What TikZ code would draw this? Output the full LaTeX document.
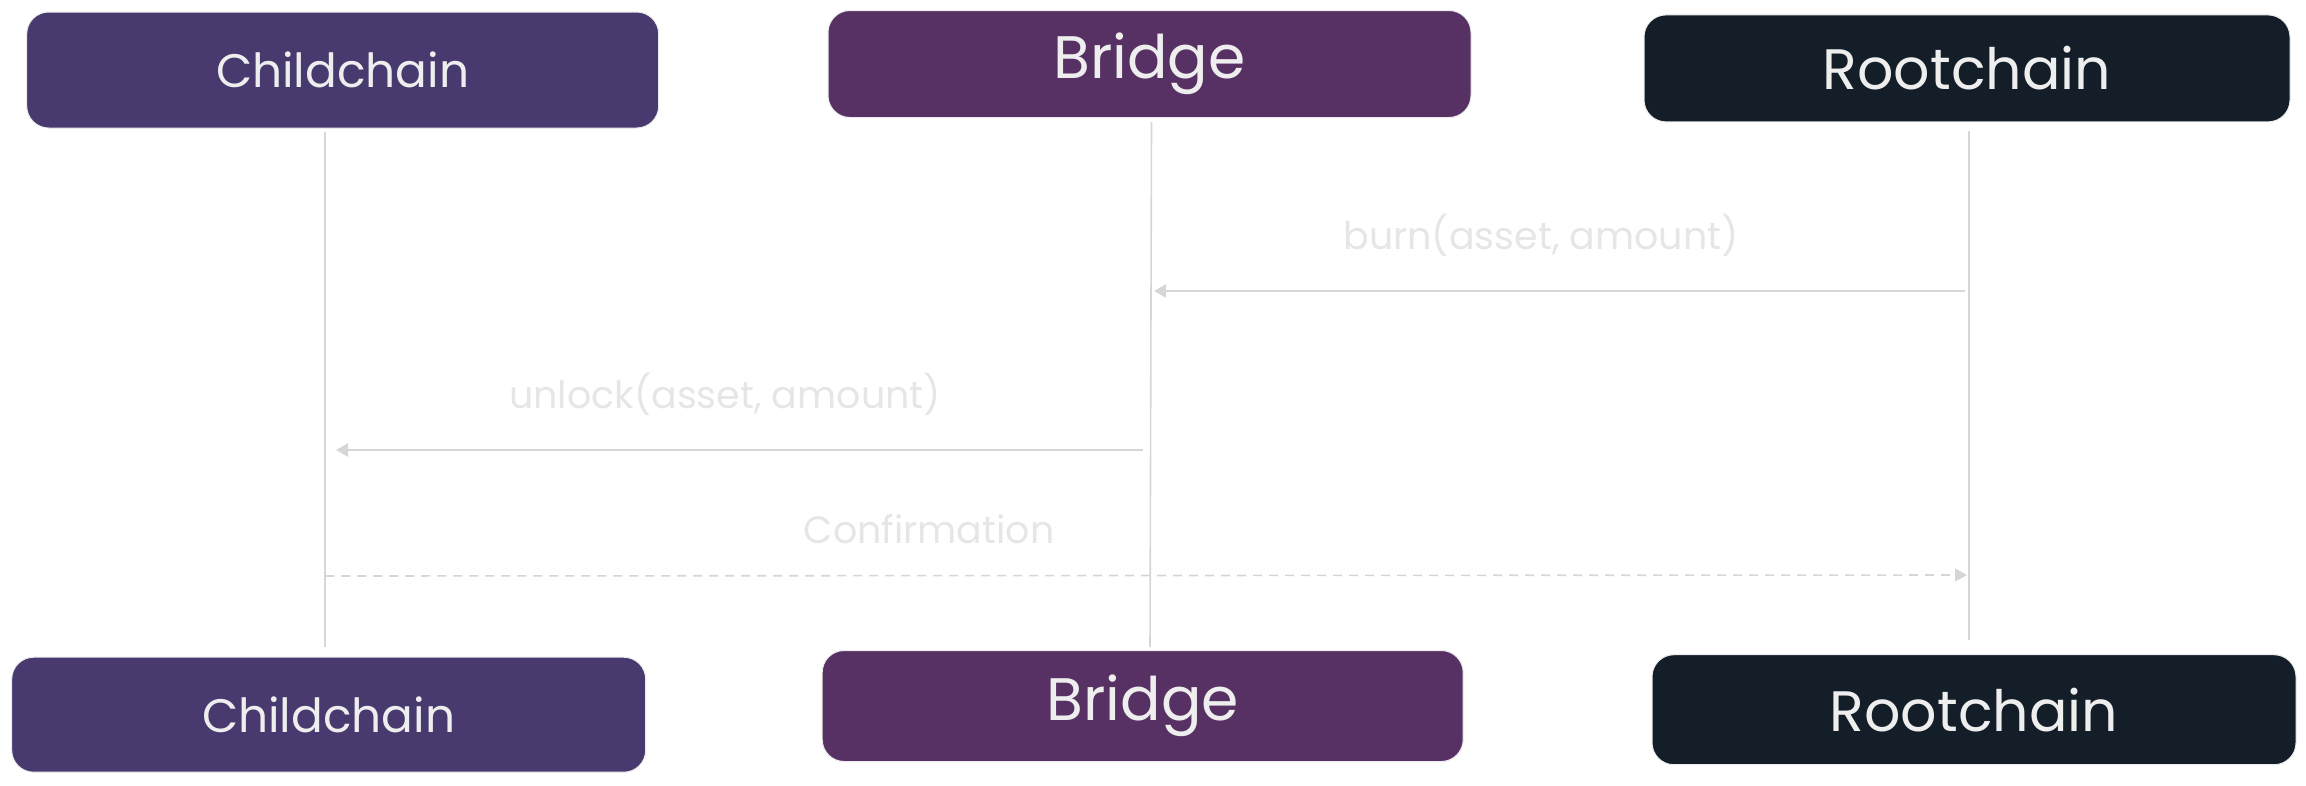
\documentclass[tikz,border=0pt]{standalone}
\usepackage{fontspec}
\setmainfont{Poppins}
\usetikzlibrary{arrows.meta}
\definecolor{childc}{HTML}{483A6F}
\definecolor{bridgec}{HTML}{583164}
\definecolor{rootc}{HTML}{131E29}
\definecolor{boxtext}{HTML}{EEEEEE}
\definecolor{labeltext}{HTML}{E6E6E6}
\definecolor{linec}{HTML}{D6D6D6}
\tikzset{
  actor/.style={rounded corners=22pt, inner sep=0pt, outer sep=0pt, text=boxtext,
    font=\fontsize{47}{52}\selectfont, draw=black!8, line width=1pt},
  bigtext/.style={font=\fontsize{60}{66}\selectfont},
  midtext/.style={font=\fontsize{57}{62}\selectfont},
  lifeline/.style={draw=linec, line width=1.6pt},
  msg/.style={draw=linec, line width=2.4pt, -{Triangle[length=12pt,width=13pt]}},
  reply/.style={draw=linec, line width=1.6pt, dash pattern=on 9pt off 7pt, -{Triangle[length=12pt,width=13pt]}},
  msglabel/.style={text=labeltext, inner sep=0pt, font=\fontsize{38}{44}\selectfont}
}
\begin{document}
\begin{tikzpicture}[x=1pt,y=-1pt]
\useasboundingbox (0,0) rectangle (2306,785);
% top actors
\node[actor, fill=childc, minimum width=632pt, minimum height=116pt] (ct) at (342.7,70) {Childchain};
\node[actor, bigtext, fill=bridgec, minimum width=643pt, minimum height=107pt] (bt) at (1149.5,64) {Bridge};
\node[actor, midtext, fill=rootc, minimum width=646pt, minimum height=107pt] (rt) at (1967,68.4) {Rootchain};
% bottom actors
\node[actor, fill=childc, minimum width=634pt, minimum height=115pt] (cb) at (328.7,714.7) {Childchain};
\node[actor, bigtext, fill=bridgec, minimum width=641pt, minimum height=111pt] (bb) at (1142.7,706) {Bridge};
\node[actor, midtext, fill=rootc, minimum width=644pt, minimum height=110pt] (rb) at (1974,709.7) {Rootchain};
% lifeline ends
\coordinate (c1) at (325,132);
\coordinate (c2) at (325,647);
\coordinate (b1) at (1151.5,122);
\coordinate (b2) at (1150,647);
\coordinate (r1) at (1969,131);
\coordinate (r2) at (1969,640);
\draw[lifeline] (c1) -- (c2);
\draw[lifeline] (b1) -- (b2);
\draw[lifeline] (r1) -- (r2);
% messages
\coordinate (burnS) at (1965,291);
\coordinate (burnE) at (1154,291);
\coordinate (unlS) at (1143,450);
\coordinate (unlE) at (336,450);
\coordinate (conS) at (325,576);
\coordinate (conE) at (1967,575);
\draw[msg] (burnS) -- (burnE);
\draw[msg] (unlS) -- (unlE);
\draw[reply] (conS) -- (conE);
\node[msglabel] (lburn) at (1541,235) {burn(asset, amount)};
\node[msglabel] (lunl) at (725,394) {unlock(asset, amount)};
\node[msglabel] (lcon) at (929,529) {Confirmation};
\end{tikzpicture}
\end{document}
